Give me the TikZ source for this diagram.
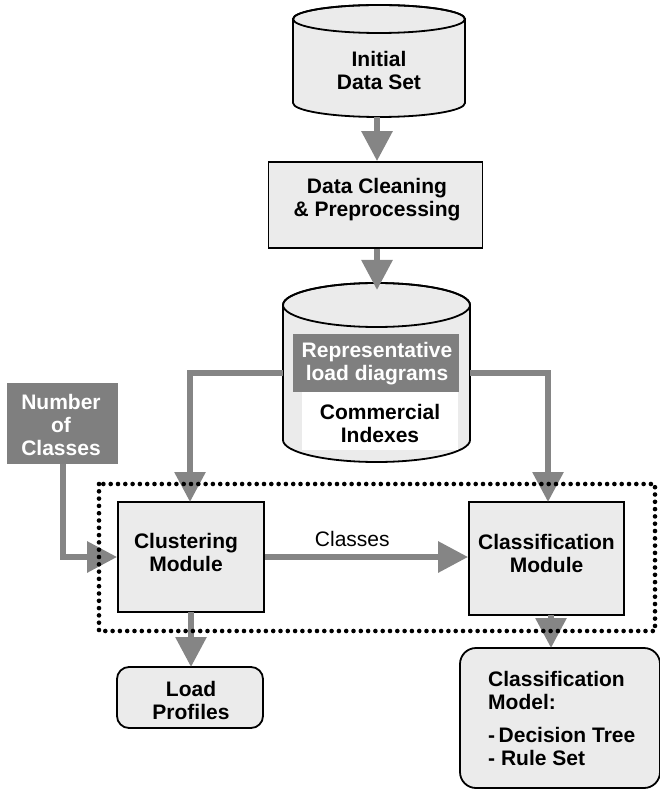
\documentclass[tikz,border=0pt]{standalone}
\usepackage{fontspec}
\setmainfont{Liberation Sans}
\usetikzlibrary{arrows.meta,calc}
\definecolor{lightfill}{HTML}{EBEBEB}
\definecolor{darkfill}{HTML}{7F7F7F}
\definecolor{arrowgray}{HTML}{858585}
\begin{document}
\begin{tikzpicture}[x=1pt,y=1pt,
  box/.style={draw, line width=1.8pt, fill=lightfill, inner sep=0pt},
  rbox/.style={box, rounded corners=12pt},
  darkbox/.style={fill=darkfill, inner sep=0pt},
  txt/.style={font=\fontsize{21}{23}\selectfont\bfseries, align=center, inner sep=0pt},
  wtxt/.style={txt, text=white},
  plain/.style={font=\fontsize{21}{23}\selectfont, inner sep=0pt},
  flow/.style={draw=arrowgray, line width=6pt, -{Triangle[length=30pt,width=30pt]}},
  dotborder/.style={draw=black, line width=4.6pt, line cap=round, dash pattern=on 0pt off 7.3pt},
  cyl/.style={draw, line width=1.8pt, fill=lightfill}
]
\useasboundingbox (0,0) rectangle (660,-791);

% ---------- Cylinder 1: Initial Data Set ----------
\path[cyl] (293,-19) -- (293,-103)
  arc[start angle=180,end angle=360,x radius=86pt,y radius=14pt]
  -- (465,-19)
  arc[start angle=0,end angle=180,x radius=86pt,y radius=14pt] -- cycle;
\draw[line width=1.8pt] (379,-19) ellipse[x radius=86pt,y radius=14pt];
\node[txt] (init) at (379,-70) {Initial\\Data Set};
\coordinate (cylAbot) at (377,-117);

% ---------- Data cleaning ----------
\node[box, minimum width=214pt, minimum height=86pt] (prep) at (375.5,-205) {};
\node[txt] (prepT) at (377,-200) {Data Cleaning\\\& Preprocessing};

% ---------- Cylinder 2 ----------
\path[cyl] (283,-305) -- (283,-440)
  arc[start angle=180,end angle=360,x radius=93.5pt,y radius=22pt]
  -- (470,-305)
  arc[start angle=0,end angle=180,x radius=93.5pt,y radius=22pt] -- cycle;
\draw[line width=1.8pt] (376.5,-305) ellipse[x radius=93.5pt,y radius=22pt];
\coordinate (cylBtop) at (377,-290);
\coordinate (cylBleft) at (283,-373);
\coordinate (cylBright) at (470,-373);
\node[darkbox, minimum width=166pt, minimum height=58pt] (rep) at (376,-363) {};
\node[wtxt] (repT) at (377,-364) {Representative\\load diagrams};
\node[fill=white, inner sep=0pt, minimum width=156pt, minimum height=58pt] (comm) at (380,-421) {};
\node[txt] (commT) at (380,-423) {Commercial\\Indexes};

% ---------- Number of classes ----------
\node[darkbox, minimum width=111pt, minimum height=81pt] (num) at (62.5,-423.5) {};
\node[wtxt] (numT) at (61,-425) {Number\\of\\Classes};

% ---------- Modules ----------
\node[box, minimum width=146pt, minimum height=110pt] (clus) at (191,-557) {};
\node[txt] (clusT) at (186,-552) {Clustering\\Module};
\node[box, minimum width=155pt, minimum height=113pt] (clas) at (546.5,-558.5) {};
\node[txt] (clasT) at (546.5,-553) {Classification\\Module};

% ---------- Outputs ----------
\node[rbox, minimum width=146pt, minimum height=61pt] (load) at (190,-697.5) {};
\node[txt] (loadT) at (191,-700) {Load\\Profiles};
\node[rbox, rounded corners=16pt, minimum width=200pt, minimum height=140pt] (model) at (560,-718) {};
\node[txt, align=left, anchor=west] (modelT) at (488,-718)
  {Classification\\Model:\\[10pt]-\,Decision Tree\\- Rule Set};

% ---------- Connectors ----------
\draw[flow] (cylAbot) -- (cylAbot |- prep.north);
\draw[flow] (prep.south -| cylBtop) -- (cylBtop);
\draw[flow] (cylBleft) -- (190,-373) -- (190,-502);
\draw[flow] (cylBright) -- (548,-373) -- (548,-502);
\draw[flow] (num.south) -- (62.5,-557) -- (clus.west |- 0,-557);
\draw[flow] (clus.east |- 0,-557) -- (clas.west |- 0,-557)
  node[plain, pos=0.43, above=7pt] (classesL) {Classes};
\draw[flow] (191,-612) -- (191,-667);
\draw[flow] (551,-615) -- (551,-648);

% ---------- Dotted frame ----------
\draw[dotborder] (99,-484) rectangle (655,-631);
\end{tikzpicture}
\end{document}
